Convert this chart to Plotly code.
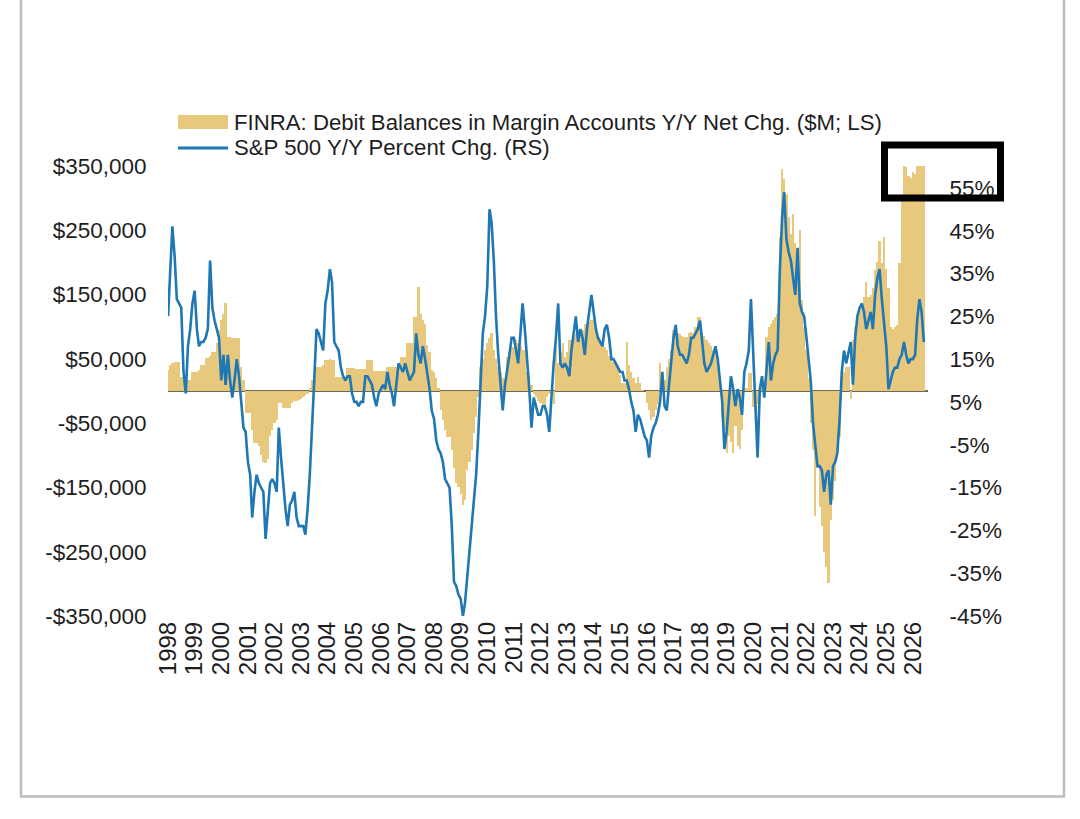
import pandas as pd
import plotly.graph_objects as go

# ---------------- data (monthly, Jan 1998 - Jun 2026) ----------------
dates = pd.date_range("1998-01-01", periods=342, freq="MS")

# FINRA debit balances in margin accounts, Y/Y net change (in $ thousands of millions)
margin_debt_k = [
    # 1998
    33, 40, 43, 45, 45, 45, 22, 22, 17, 17, 17, 30,
    # 1999
    30, 30, 32, 40, 40, 51, 51, 55, 61, 61, 74, 95,
    # 2000
    110, 120, 137, 84, 84, 82, 82, 82, 82, 37, 17, -34,
    # 2001
    -34, -34, -60, -81, -81, -85, -100, -110, -112, -105, -70, -60,
    # 2002
    -50, -45, -19, -19, -26, -26, -26, -26, -18, -16, -15, -14,
    # 2003
    -12, -10, -8, -5, 5, 17, 17, 38, 38, 38, 40, 48,
    # 2004
    48, 50, 48, 48, 22, 22, 22, 22, 22, 36, 36, 36,
    # 2005
    36, 35, 35, 35, 35, 35, 48, 48, 48, 31, 31, 31,
    # 2006
    31, 31, 31, 38, 38, 38, 38, 38, 38, 53, 53, 53,
    # 2007
    74, 74, 74, 115, 115, 162, 120, 110, 105, 71, 60, 33,
    # 2008
    30, 20, 5, -30, -45, -60, -71, -71, -92, -120, -143, -149,
    # 2009
    -160, -177, -170, -123, -110, -92, -65, -40, -10, 37, 50, 64,
    # 2010
    74, 82, 90, 64, 50, 37, 30, 20, 17, 53, 60, 68,
    # 2011
    68, 79, 75, 70, 64, 64, 30, 20, 10, -5, -10, -15,
    # 2012
    -19, -25, -30, -10, -5, -3, -20, 68, 43, 60, 74, 53,
    # 2013
    60, 79, 80, 84, 88, 90, 95, 95, 105, 105, 108, 110,
    # 2014
    110, 95, 84, 75, 70, 68, 64, 55, 50, 45, 40, 37,
    # 2015
    25, 12, 12, 77, 40, 30, 20, 12, 22, 12, 2, 0,
    # 2016
    -19, -30, -45, -40, -30, -20, 43, 30, 17, 37, 50, 64,
    # 2017
    95, 92, 90, 88, 86, 84, 84, 90, 92, 90, 100, 115,
    # 2018
    115, 90, 85, 80, 75, 70, 64, 64, 37, 10, -40, -60,
    # 2019
    -96, -70, -80, -96, -55, -85, -90, -60, 5, 5, 28, 28,
    # 2020
    -25, -30, -20, -10, 12, 12, 84, 100, 105, 110, 115, 120,
    # 2021
    240, 346, 330, 307, 270, 245, 276, 230, 203, 250, 141, 100,
    # 2022
    64, 20, -50, -92, -195, -120, -180, -210, -250, -273, -298, -200,
    # 2023
    -170, -140, -92, -71, 22, 30, 37, 37, -12, 80, 100, 115,
    # 2024
    126, 135, 146, 170, 146, 150, 160, 188, 200, 234, 199, 239,
    # 2025
    190, 160, 100, 97, 100, 103, 199, 300, 350, 348, 335, 332,
    # 2026
    340, 338, 350, 350, 350, 350,
]
margin_debt = [v * 1000 for v in margin_debt_k]

# S&P 500 Y/Y percent change (%)
spx_yoy = [
    # 1998
    25, 38, 46, 39, 29, 28, 27, 12, 7, 18, 22, 28,
    # 1999
    31, 22, 18, 19, 19, 20, 22, 38, 27, 24, 22, 20,
    # 2000
    10, 16, 9, 16, 10, 6, 10, 15, 11, 5, -1, -2,
    # 2001
    -9, -12, -22, -16, -12, -14, -15, -16, -27, -20, -14, -13,
    # 2002
    -14, -16, -1, -8, -15, -20, -24, -19, -18, -16, -22, -24,
    # 2003
    -24, -24, -26, -20, -12, -2, 10, 22, 21, 19, 17, 28,
    # 2004
    31, 36, 33, 19, 18, 17, 13, 11, 10, 11, 11, 7,
    # 2005
    5, 5, 4, 5, 5, 11, 11, 10, 9, 6, 4, 7,
    # 2006
    8, 9, 8, 12, 9, 7, 4, 9, 14, 13, 12, 14,
    # 2007
    12, 10, 11, 12, 21, 16, 14, 18, 15, 12, 8, 3,
    # 2008
    1, -4, -6, -7, -9, -13, -14, -15, -24, -37, -38, -40,
    # 2009
    -41, -45, -42, -36, -30, -25, -18, -12, -2, 9, 21, 25,
    # 2010
    32, 50, 47, 38, 25, 16, 10, 3, 9, 12, 16, 20,
    # 2011
    20, 17, 14, 21, 28, 22, 16, 8, -1, 6, 4, 2,
    # 2012
    2, 4, 4, 2, -2, 7, 14, 20, 28, 14, 13, 14,
    # 2013
    13, 11, 17, 21, 25, 19, 22, 20, 16, 22, 26, 30,
    # 2014
    26, 22, 20, 19, 18, 22, 23, 20, 15, 15, 14, 13,
    # 2015
    12, 12, 10, 10, 8, 5, 3, -2, 2, 1, -1, -3,
    # 2016
    -4, -8, -3, -1, 0, 2, 5, 12, 4, 3, 9, 14,
    # 2017
    20, 23, 18, 16, 16, 15, 14, 16, 20, 20, 21, 22,
    # 2018
    24, 18, 14, 12, 13, 14, 16, 18, 15, 10, 5, -6,
    # 2019
    -2, 5, 11, 8, 4, 8, 6, 2, 12, 14, 17, 29,
    # 2020
    16, 5, -8, 8, 11, 6, 12, 19, 10, 14, 16, 17,
    # 2021
    36, 48, 54, 43, 40, 38, 34, 30, 41, 28, 26, 25,
    # 2022
    20, 15, 10, 0, -5, -10, -10, -11, -16, -12, -11, -19,
    # 2023
    -10, -9, -7, 1, 12, 17, 14, 17, 19, 9, 20, 25,
    # 2024
    27, 28, 26, 22, 24, 26, 22, 30, 34, 36, 29, 24,
    # 2025
    18, 8, 10, 12, 13, 13, 15, 16, 19, 16, 14, 15,
    # 2026
    15, 16, 24, 29, 26, 19,
]

left_tickvals = [-350000, -250000, -150000, -50000, 50000, 150000, 250000, 350000]
left_ticktext = ["-$350,000", "-$250,000", "-$150,000", "-$50,000",
                 "$50,000", "$150,000", "$250,000", "$350,000"]
right_tickvals = [-45, -35, -25, -15, -5, 5, 15, 25, 35, 45, 55]
right_ticktext = ["-45%", "-35%", "-25%", "-15%", "-5%", "5%",
                  "15%", "25%", "35%", "45%", "55%"]

legend_bar_text = "FINRA: Debit Balances in Margin Accounts Y/Y Net Chg. ($M; LS)"
legend_line_text = "S&P 500 Y/Y Percent Chg. (RS)"

# ---------------- style ----------------
BAR_COLOR = "#E8C87C"
LINE_COLOR = "#1F77B4"
TEXT_COLOR = "#1e1e1e"
FONT = "Liberation Sans, Arial, sans-serif"
W, H = 1080, 819
L, R, T, B = 168, 152, 166, 203
PW, PH = W - L - R, H - T - B


def xp(px):
    return (px - L) / PW


def yp(py):
    return (H - B - py) / PH


fig = go.Figure()
fig.add_trace(go.Bar(
    x=dates, y=margin_debt, marker=dict(color=BAR_COLOR, line=dict(width=0)),
    width=31 * 86400000, name=legend_bar_text, yaxis="y", showlegend=False,
))
fig.add_trace(go.Scatter(
    x=dates, y=spx_yoy, mode="lines", line=dict(color=LINE_COLOR, width=2.6),
    name=legend_line_text, yaxis="y2", showlegend=False,
))

shapes = [
    # legend patch + line sample
    dict(type="rect", xref="paper", yref="paper", x0=xp(178), x1=xp(228),
         y0=yp(129), y1=yp(115), fillcolor=BAR_COLOR, line=dict(width=0)),
    dict(type="line", xref="paper", yref="paper", x0=xp(178), x1=xp(228),
         y0=yp(148), y1=yp(148), line=dict(color=LINE_COLOR, width=3)),
    # black highlight box
    dict(type="rect", xref="paper", yref="paper", x0=xp(884.5), x1=xp(1000.5),
         y0=yp(198), y1=yp(145), line=dict(color="black", width=7),
         fillcolor="rgba(0,0,0,0)"),
    # outer frame
    dict(type="rect", xref="paper", yref="paper", x0=xp(21), x1=xp(1064),
         y0=yp(796.5), y1=yp(-10), line=dict(color="#bdbdbd", width=2.5),
         fillcolor="rgba(0,0,0,0)", layer="below"),
]

annotations = [
    dict(text=legend_bar_text, xref="paper", yref="paper", x=xp(232), y=yp(122),
         xanchor="left", yanchor="middle", showarrow=False,
         font=dict(family=FONT, size=22.2, color=TEXT_COLOR)),
    dict(text=legend_line_text, xref="paper", yref="paper", x=xp(232), y=yp(147),
         xanchor="left", yanchor="middle", showarrow=False,
         font=dict(family=FONT, size=22.2, color=TEXT_COLOR)),
]

fig.update_layout(
    width=W, height=H,
    margin=dict(l=L, r=R, t=T, b=B, pad=0),
    paper_bgcolor="white", plot_bgcolor="white",
    font=dict(family=FONT, size=22, color=TEXT_COLOR),
    bargap=0, showlegend=False,
    shapes=shapes, annotations=annotations,
    xaxis=dict(
        type="date", range=["1997-12-31", "2026-07-28"],
        tick0="1998-01-01", dtick="M12", tickformat="%Y", tickangle=-90,
        showgrid=False, showline=False, zeroline=False,
        ticks="",
        tickfont=dict(family=FONT, size=24, color=TEXT_COLOR),
    ),
    yaxis=dict(
        range=[-350000, 350000], tickvals=left_tickvals, ticktext=left_ticktext,
        showgrid=False, showline=False,
        zeroline=True, zerolinecolor="#6e6852", zerolinewidth=2,
        ticks="outside", ticklen=16, tickcolor="rgba(0,0,0,0)",
        tickfont=dict(family=FONT, size=22.5, color=TEXT_COLOR),
    ),
    yaxis2=dict(
        range=[-45, 60.1], tickvals=right_tickvals, ticktext=right_ticktext,
        overlaying="y", side="right", showgrid=False, showline=False, zeroline=False,
        ticks="outside", ticklen=16, tickcolor="rgba(0,0,0,0)",
        tickfont=dict(family=FONT, size=22.5, color=TEXT_COLOR),
    ),
)

fig.write_html("out.html",
               config={"displayModeBar": False, "staticPlot": True},
               post_script="document.body.style.margin='0px';"
                           "document.body.style.overflow='hidden';")
